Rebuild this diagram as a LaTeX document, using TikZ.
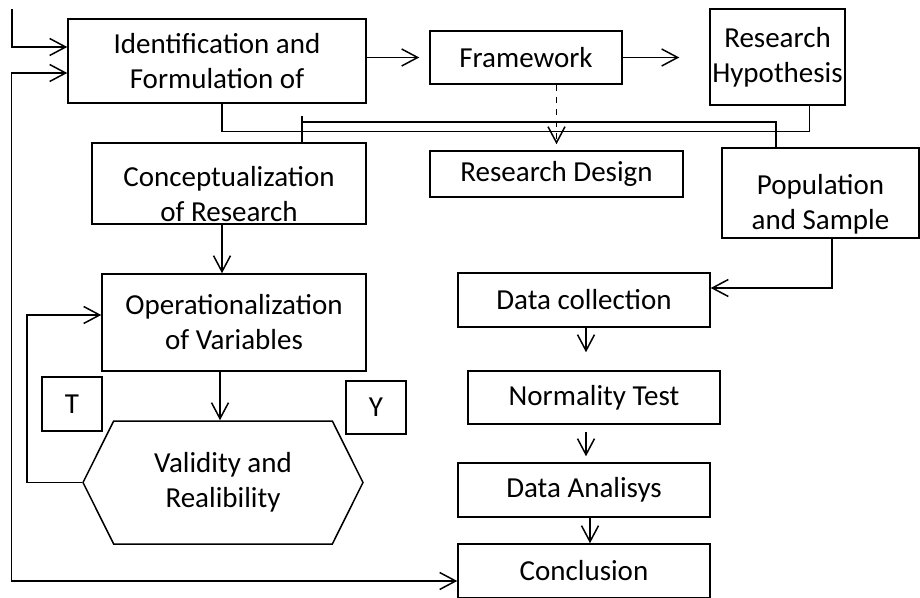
\documentclass[tikz,border=0pt]{standalone}
\usepackage{fontspec}
\setmainfont{Carlito}
\usepackage{tikz}
\usetikzlibrary{positioning,arrows.meta,shapes.symbols,calc}

\newcommand{\lowtext}{\rule{0pt}{21pt}}

\begin{document}
\begin{tikzpicture}[
  x=0.5pt, y=-0.5pt,
  blk/.style={
    draw=black, line width=0.75pt,
    font=\fontsize{14.5}{17.5}\selectfont, align=center, inner sep=0pt
  },
  hexa/.style={
    blk, signal, signal to=west and east, signal pointer angle=127
  },
  a/.style={-{Straight Barb[length=8pt,width=8.5pt]},line width=0.75pt},
  both/.style={{Straight Barb[length=8pt,width=8.5pt]}-{Straight Barb[length=8pt,width=8.5pt]},line width=0.75pt},
  ln/.style={line width=0.75pt}
]
\useasboundingbox (0,0) rectangle (920,598);

% Top row
\node[blk,minimum width=149pt,minimum height=42pt] (ident) at (217,61)
  {Identification and\\Formulation of};
\node[blk,minimum width=96pt,minimum height=26.5pt] (frame) at (526,57.5)
  {Framework};
\node[blk,minimum width=67.5pt,minimum height=48pt] (hyp) at (777.5,57)
  {Research\\Hypothesis};

% Second row
\node[blk,minimum width=137pt,minimum height=40.5pt] (concept) at (229,183.5)
  {\lowtext Conceptualization\\of Research};
\node[blk,minimum width=126.5pt,minimum height=23pt] (design) at (556.5,174)
  {Research Design};
\node[blk,minimum width=98.5pt,minimum height=45pt] (pop) at (820.5,193)
  {\lowtext Population\\and Sample};

% Left column
\node[blk,minimum width=132pt,minimum height=48.5pt] (oper) at (234,322.5)
  {Operationalization\\of Variables};
\node[hexa,minimum width=140pt,minimum height=61.5pt] (valid) at (223,482.5)
  {Validity and\\Realibility};
\node[blk,minimum width=30pt,minimum height=27pt] (tno) at (72,404) {T};
\node[blk,minimum width=30pt,minimum height=26.5pt] (yes) at (376,407.5) {Y};

% Right column
\node[blk,minimum width=126pt,minimum height=27pt] (dcoll) at (584,300)
  {Data collection};
\node[blk,minimum width=126pt,minimum height=26.5pt] (norm) at (594,397.5)
  {Normality Test};
\node[blk,minimum width=126pt,minimum height=27pt] (dana) at (584,490)
  {Data Analisys};
\node[blk,minimum width=126pt,minimum height=27pt] (concl) at (584,571)
  {Conclusion};

\coordinate (inp) at (12,9);

% Top arrows
\draw[a] (inp) |- ([yshift=7pt]ident.west);
\draw[a,shorten >=5pt] (ident.east |- frame.west) -- (frame.west);
\draw[a,shorten >=15pt] (frame.east) -- (hyp.west |- frame.east);
\draw[a,dashed,shorten >=3pt] (frame.south -| design.north) -- (design.north);

% Joining lines
\draw[ln] ([xshift=2.5pt]ident.south) -- ++(0,28) -| ([xshift=16pt]hyp.south);
\draw[ln] ([xshift=36.5pt]concept.north) -- ++(0,-26);
\draw[ln] ([xshift=36.5pt]concept.north) ++(0,-20) -| ([xshift=-22.25pt]pop.north);

% Left column arrows
\draw[a] ([xshift=-3.5pt]concept.south) -- ([xshift=-3.5pt]concept.south |- oper.north);
\draw[a] ([xshift=-7pt]oper.south) -- ([xshift=-7pt]oper.south |- valid.north);
\draw[a] (valid.west) -- ++(-55,0) |- ([yshift=3.75pt]oper.west);
\draw[both] ([yshift=-6pt]ident.west) -- ++(-56,0) |- ([yshift=-5pt]concl.west);

% Right column arrows
\draw[a] ([xshift=5.75pt]pop.south) |- ([yshift=6pt]dcoll.east);
\draw[a,shorten >=9pt] ([xshift=1pt]dcoll.south) -- ([xshift=1pt]dcoll.south |- norm.north);
\draw[a,shorten <=3.5pt,shorten >=3pt] ([xshift=-4pt]norm.south) -- ([xshift=-4pt]norm.south |- dana.north);
\draw[a] ([xshift=3pt]dana.south) -- ([xshift=3pt]dana.south |- concl.north);
\end{tikzpicture}
\end{document}
